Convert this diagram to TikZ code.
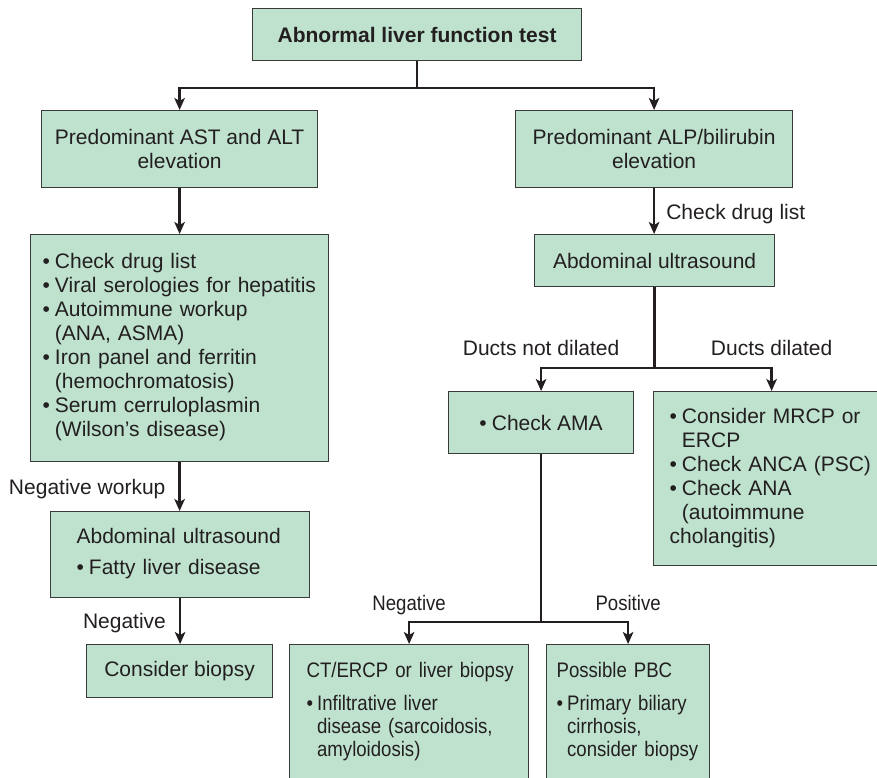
\documentclass[tikz,border=0pt]{standalone}
\usepackage{fontspec}
\setmainfont{Liberation Sans}
\newfontfamily\condfont[FakeStretch=0.886]{Liberation Sans}
\usetikzlibrary{arrows.meta}
\definecolor{boxfill}{RGB}{190,226,206}
\definecolor{bordercol}{RGB}{58,58,58}
\definecolor{linecol}{RGB}{35,31,32}
\definecolor{textcol}{RGB}{35,31,32}
\newcommand\fsA{\fontsize{21}{24}\selectfont}
\newcommand\fsB{\condfont\fontsize{21}{23}\selectfont}
\newcommand\bul{\textbullet}
\begin{document}
\begin{tikzpicture}[x=1pt,y=-1pt,
  box/.style={draw=bordercol, fill=boxfill, line width=1.2pt, anchor=north west,
    inner ysep=0pt, inner xsep=0pt, font=\fsA, text=textcol},
  lbl/.style={font=\fsA, text=textcol, inner sep=0pt},
  lblB/.style={font=\fsB, text=textcol, inner sep=0pt},
  ln/.style={line width=2.4pt, draw=linecol},
  arr/.style={ln, -{Stealth[length=12pt,width=10.5pt,inset=3pt]}}]
\useasboundingbox (0,0) rectangle (877,777);
\fill[white] (0,0) rectangle (877,777);

% boxes
\node[box, minimum width=329pt, minimum height=52pt, font=\fsA\bfseries] (top) at (252,8) {Abnormal liver function test};
\node[box, minimum width=276pt, minimum height=77pt, align=center] (ast) at (41,110) {Predominant AST and ALT\\elevation};
\node[box, minimum width=277pt, minimum height=77pt, align=center] (alp) at (515,110) {Predominant ALP/bilirubin\\elevation};

\node[box, inner xsep=12pt, text width=274pt, minimum height=227pt, align=left] (work) at (30,234) {\begin{tabular}{@{}l@{\hspace{5pt}}l@{}}
\bul & Check drug list\\
\bul & Viral serologies for hepatitis\\
\bul & Autoimmune workup\\
 & (ANA, ASMA)\\
\bul & Iron panel and ferritin\\
 & (hemochromatosis)\\
\bul & Serum cerruloplasmin\\
 & (Wilson’s disease)
\end{tabular}};

\node[box, inner xsep=26pt, text width=207pt, minimum height=86pt, align=left] (usL) at (50,511) {\begin{tabular}{@{}l@{\hspace{5pt}}l@{}}
\multicolumn{2}{@{}l@{}}{Abdominal ultrasound}\\[7pt]
\bul & Fatty liver disease
\end{tabular}};

\node[box, minimum width=186pt, minimum height=53pt] (bx) at (86,644) {Consider biopsy};

\node[box, minimum width=240pt, minimum height=52pt] (usR) at (534,234) {Abdominal ultrasound};
\node[box, minimum width=185pt, minimum height=62pt] (ama) at (448,391) {\bul\hspace{5pt}Check AMA};

\node[box, inner xsep=16pt, text width=204pt, minimum height=174pt, align=left] (mrcp) at (653,391) {\begin{tabular}{@{}l@{\hspace{5pt}}l@{}}
\bul & Consider MRCP or\\
 & ERCP\\
\bul & Check ANCA (PSC)\\
\bul & Check ANA\\
 & (autoimmune\\
\multicolumn{2}{@{}l@{}}{cholangitis)}
\end{tabular}};

\node[box, font=\fsB, inner xsep=17pt, text width=205pt, inner ysep=16.4pt, text height=16.1pt, text depth=130pt, align=left] (ct) at (289,644) {\begin{tabular}[t]{@{}l@{\hspace{4pt}}l@{}}
\multicolumn{2}{@{}l@{}}{CT/ERCP or liver biopsy}\\[10pt]
\bul & Infiltrative liver\\
 & disease (sarcoidosis,\\
 & amyloidosis)
\end{tabular}};

\node[box, font=\fsB, inner xsep=10pt, text width=143pt, inner ysep=16.4pt, text height=16.1pt, text depth=130pt, align=left] (pbc) at (546,644) {\begin{tabular}[t]{@{}l@{\hspace{4pt}}l@{}}
\multicolumn{2}{@{}l@{}}{Possible PBC}\\[10pt]
\bul & Primary biliary\\
 & cirrhosis,\\
 & consider biopsy
\end{tabular}};

% connectors
\draw[arr] (top.south) -- ++(0,27) -| (ast.north);
\draw[arr] (top.south) -- ++(0,27) -| (alp.north);
\draw[arr] (ast.south) -- (ast.south |- work.north);
\draw[arr] (work.south) -- node[lbl, anchor=base east, xshift=-13pt, yshift=-7.5pt] (lnw) {Negative workup} (work.south |- usL.north);
\draw[arr] (usL.south) -- node[lbl, anchor=base east, xshift=-13pt, yshift=-7.5pt] (lneg) {Negative} (usL.south |- bx.north);
\draw[arr] (alp.south) -- node[lbl, anchor=base west, xshift=11pt, yshift=-8.5pt] (ldrug) {Check drug list} (alp.south |- usR.north);
\draw[arr] (usR.south) -- ++(0,81) -| node[lbl, pos=0.5, anchor=base, yshift=12.5pt] (lnd) {Ducts not dilated} (ama.north);
\draw[arr] (usR.south) -- ++(0,81) -| node[lbl, pos=0.5, anchor=base, yshift=12.5pt] (ld) {Ducts dilated} (mrcp.north);
\draw[arr] (ama.south) -- ++(0,168) -| node[lblB, pos=0.5, anchor=base, yshift=11.5pt] (lneg2) {Negative} (ct.north);
\draw[arr] (ama.south) -- ++(0,168) -| node[lblB, pos=0.5, anchor=base, yshift=11.5pt] (lpos) {Positive} (pbc.north);
\end{tikzpicture}
\end{document}
